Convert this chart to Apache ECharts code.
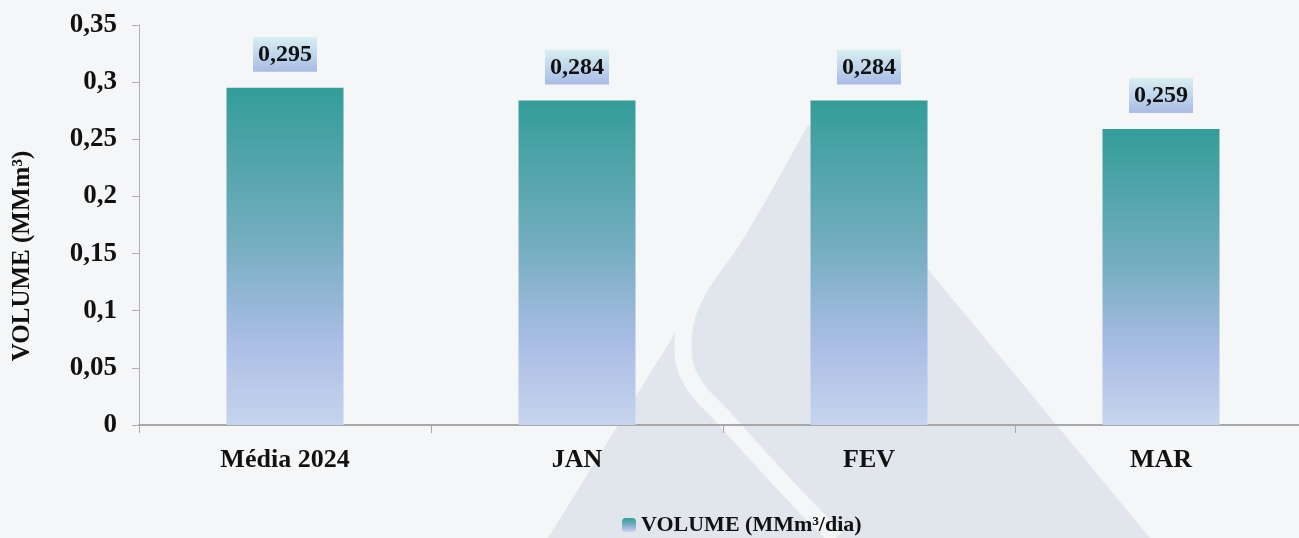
<!DOCTYPE html>
<html>
<head>
<meta charset="utf-8">
<script src="https://cdn.jsdelivr.net/npm/echarts@6/dist/echarts.min.js"></script>
<style>
  html, body { margin: 0; padding: 0; background: #f5f6f8; }
  #chart { width: 1299px; height: 538px; }
</style>
</head>
<body>
<div id="chart"></div>
<script>
  // dados
  var categorias = ['Média 2024', 'JAN', 'FEV', 'MAR'];
  var volume = [0.295, 0.284, 0.284, 0.259];
  var serieNome = 'VOLUME (MMm³/dia)';
  var eixoNome = 'VOLUME (MMm³)';

  var fonte = '"Liberation Serif", "DejaVu Serif", serif';

  function virgula(v) {
    return String(+v.toFixed(3)).replace('.', ',');
  }

  var barraCor = new echarts.graphic.LinearGradient(0, 0, 0, 1, [
    { offset: 0, color: '#339d98' },
    { offset: 0.45, color: '#74adc0' },
    { offset: 0.75, color: '#aabde5' },
    { offset: 1, color: '#c6d4ed' }
  ]);

  var chart = echarts.init(document.getElementById('chart'));
  chart.setOption({
    backgroundColor: '#f5f6f8',
    animation: false,
    // fundo decorativo
    graphic: [
      {
        type: 'polygon', z: -10, silent: true,
        shape: { points: [[806, 122], [1150, 538], [548, 538]] },
        style: { fill: '#e1e6ed' }
      },
      {
        type: 'polyline', z: -9, silent: true,
        shape: {
          points: [[812, 100], [737, 233], [693, 300], [683, 350], [693, 383], [723, 417], [783, 483], [836, 538]],
          smooth: 0.4
        },
        style: { stroke: '#f5f6f8', lineWidth: 17, fill: null }
      },
      {
        type: 'text', silent: true,
        x: 23, y: 256, rotation: Math.PI / 2,
        style: {
          text: eixoNome, fill: '#111', font: 'bold 25px ' + fonte,
          align: 'center', verticalAlign: 'middle'
        }
      }
    ],
    grid: { left: 139, top: 25, width: 1168, height: 400, outerBoundsMode: 'none' },
    legend: {
      left: 617, top: 509,
      itemWidth: 14, itemHeight: 14, itemGap: 4,
      data: [serieNome],
      textStyle: { color: '#111', fontFamily: fonte, fontWeight: 'bold', fontSize: 22 }
    },
    xAxis: {
      type: 'category',
      data: categorias,
      axisLine: { lineStyle: { color: '#a8a8a8', width: 2 } },
      axisTick: { show: true, length: 8, lineStyle: { color: '#a8a8a8' } },
      axisLabel: { margin: 22, color: '#111', fontFamily: fonte, fontWeight: 'bold', fontSize: 26 }
    },
    yAxis: {
      type: 'value',
      min: 0, max: 0.35, interval: 0.05,
      axisLine: { show: true, lineStyle: { color: '#b0b0b0' } },
      axisTick: { show: true, length: 7, lineStyle: { color: '#b0b0b0' } },
      splitLine: { show: false },
      axisLabel: {
        margin: 22, color: '#111', fontFamily: fonte, fontWeight: 'bold', fontSize: 27,
        formatter: virgula
      }
    },
    series: [{
      name: serieNome,
      type: 'bar',
      data: volume,
      barWidth: 117,
      itemStyle: { color: barraCor },
      label: {
        show: true,
        position: 'top',
        distance: 16,
        formatter: function (p) { return virgula(p.value); },
        color: '#111',
        fontFamily: fonte, fontWeight: 'bold', fontSize: 24,
        padding: [6, 5, 5, 5],
        backgroundColor: new echarts.graphic.LinearGradient(0, 0, 0, 1, [
          { offset: 0, color: '#d8eff1' },
          { offset: 1, color: '#a8bce6' }
        ])
      }
    }]
  });
</script>
</body>
</html>
